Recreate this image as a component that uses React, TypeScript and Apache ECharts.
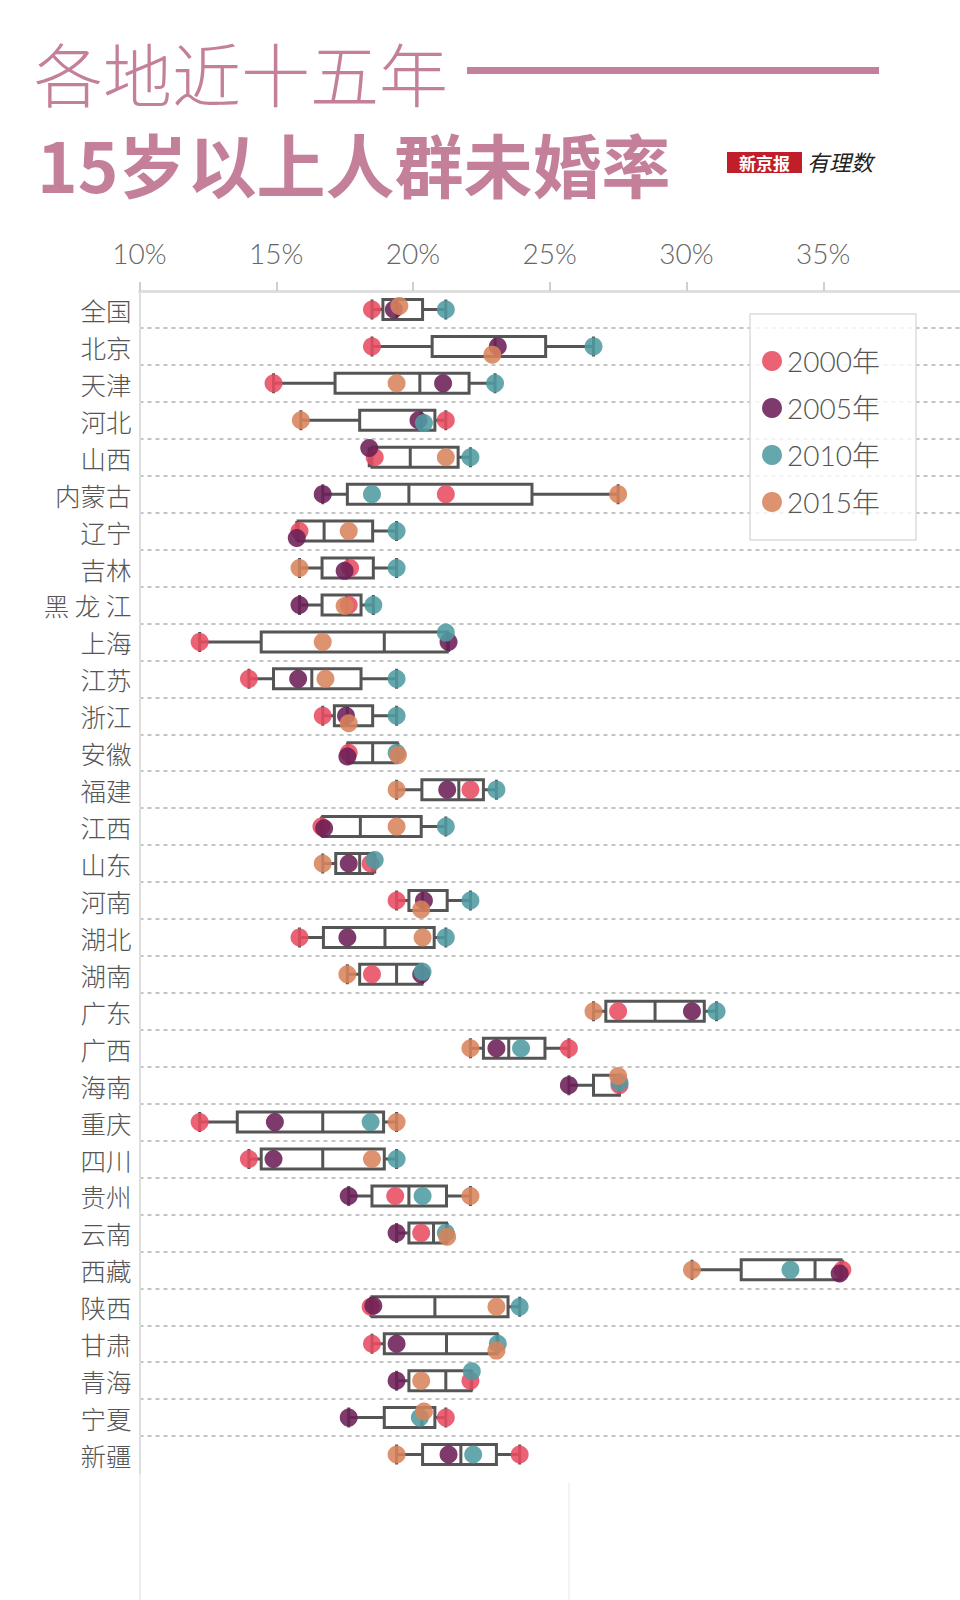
import React, { useEffect, useRef } from 'react';
import * as echarts from 'echarts';

// ---------- data ----------
const provinces = ['全国', '北京', '天津', '河北', '山西', '内蒙古', '辽宁', '吉林', '黑 龙 江', '上海', '江苏', '浙江', '安徽', '福建', '江西', '山东', '河南', '湖北', '湖南', '广东', '广西', '海南', '重庆', '四川', '贵州', '云南', '西藏', '陕西', '甘肃', '青海', '宁夏', '新疆'];
const years = ['2000年', '2005年', '2010年', '2015年'];
const rate2000 = [18.5, 18.5, 14.9, 21.2, 18.6, 21.2, 15.85, 17.7, 17.65, 12.2, 14.0, 16.7, 17.65, 22.1, 16.65, 18.45, 19.4, 15.85, 18.5, 27.5, 25.7, 27.55, 12.2, 14.0, 19.35, 20.3, 35.7, 18.45, 18.5, 22.1, 21.2, 23.9];
const rate2005 = [19.3, 23.1, 21.1, 20.2, 18.4, 16.7, 15.75, 17.5, 15.85, 21.3, 15.8, 17.55, 17.6, 21.25, 16.75, 17.65, 20.4, 17.6, 20.3, 30.2, 23.05, 25.7, 14.95, 14.9, 17.65, 19.4, 35.6, 18.55, 19.4, 19.4, 17.65, 21.3];
const rate2010 = [21.2, 26.6, 23.0, 20.4, 22.1, 18.5, 19.4, 19.4, 18.55, 21.2, 19.4, 19.4, 19.4, 23.05, 21.2, 18.6, 22.1, 21.2, 20.35, 31.1, 23.95, 27.55, 18.45, 19.4, 20.35, 21.2, 33.8, 23.9, 23.1, 22.15, 20.25, 22.2];
const rate2015 = [19.5, 22.9, 19.4, 15.9, 21.2, 27.5, 17.65, 15.85, 17.5, 16.7, 16.8, 17.65, 19.45, 19.4, 19.4, 16.7, 20.3, 20.35, 17.6, 26.6, 22.1, 27.5, 19.4, 18.5, 22.1, 21.25, 30.2, 23.05, 23.05, 20.3, 20.4, 19.4];
const seriesRates = [rate2000, rate2005, rate2010, rate2015];

const colors = ['#e84c62', '#6c1f55', '#4f9ba2', '#d8835c'];
const titleColor = '#c4809a';
const cjk = '"Noto Sans CJK SC", "Noto Sans", sans-serif';

// Tukey hinges for four observations per row
function hinges(vals: number[]) {
  const s = [...vals].sort((a, b) => a - b);
  const n = s.length;
  const half = Math.floor(n / 2);
  const med = (arr: number[]) => {
    const m = Math.floor(arr.length / 2);
    return arr.length % 2 ? arr[m] : (arr[m - 1] + arr[m]) / 2;
  };
  const lower = s.slice(0, half);
  const upper = s.slice(n - half);
  return [s[0], med(lower), med(s), med(upper), s[n - 1]];
}

export default function App() {
  const ref = useRef<HTMLDivElement>(null);

  useEffect(() => {
    if (!ref.current) return;
    const chart = echarts.init(ref.current, undefined, { renderer: 'svg' });

    const boxData = provinces.map((_, i) => hinges(seriesRates.map((r) => r[i])));

    const scatterSeries = years.map((y, k) => ({
      type: 'scatter',
      name: y,
      data: provinces.map((p, i) => [seriesRates[k][i], p]),
      symbolSize: 18,
      itemStyle: { color: colors[k], opacity: 0.88 },
      z: 3,
    }));

    chart.setOption({
      animation: false,
      backgroundColor: '#ffffff',
      textStyle: { fontFamily: cjk },
      grid: { left: 139.5, right: -12.3, top: 291, height: 1182 },
      xAxis: {
        type: 'value',
        position: 'top',
        min: 10,
        max: 40,
        interval: 5,
        axisLine: { show: true, lineStyle: { color: '#dedede', width: 3 } },
        axisTick: { show: true, length: 9, lineStyle: { color: '#cfcfcf', width: 2 } },
        splitLine: { show: false },
        axisLabel: {
          formatter: '{value}%',
          fontSize: 28,
          color: '#666',
          fontWeight: 300,
          fontFamily: 'Lato, "Open Sans", sans-serif',
          margin: 24,
          showMaxLabel: false,
        },
      },
      yAxis: {
        type: 'category',
        data: provinces,
        inverse: true,
        jitter: 28,
        jitterOverlap: false,
        jitterMargin: 2,
        axisLine: { show: true, lineStyle: { color: '#dedede', width: 2 } },
        axisTick: { show: false },
        axisLabel: { interval: 0, fontSize: 25.5, color: '#555', fontWeight: 300, fontFamily: cjk, margin: 8 },
        splitLine: {
          show: true,
          interval: 0,
          showMinLine: false,
          showMaxLine: false,
          lineStyle: { color: '#c4c4c4', width: 2, type: [4, 4] },
        },
      },
      legend: {
        data: years,
        orient: 'vertical',
        left: 750,
        top: 314,
        itemGap: 19,
        icon: 'circle',
        itemWidth: 20,
        itemHeight: 20,
        padding: [33, 36, 24, 12],
        borderColor: '#dcdcdc',
        borderWidth: 1.5,
        backgroundColor: 'rgba(255,255,255,0.8)',
        textStyle: { fontSize: 28, color: '#555', fontWeight: 300, fontFamily: 'Lato, "Noto Sans CJK SC", sans-serif' },
      },
      series: [
        {
          type: 'boxplot',
          name: 'box',
          data: boxData,
          boxWidth: [20, 20],
          itemStyle: { color: 'rgba(255,255,255,0)', borderColor: '#555', borderWidth: 3 },
          emphasis: { disabled: true },
          z: 2,
        },
        ...scatterSeries,
      ],
      graphic: [
        {
          type: 'text',
          x: 34,
          y: 72,
          style: { text: '各地近十五年', fontSize: 69, fontWeight: 300, fontFamily: cjk, fill: titleColor, align: 'left', verticalAlign: 'middle' },
        },
        { type: 'rect', shape: { x: 467, y: 67, width: 412, height: 7 }, style: { fill: titleColor } },
        {
          type: 'text',
          x: 37,
          y: 163,
          style: { text: '15岁以上人群未婚率', fontSize: 69, fontWeight: 'bold', fontFamily: cjk, fill: titleColor, align: 'left', verticalAlign: 'middle' },
        },
        { type: 'rect', shape: { x: 727, y: 152, width: 75, height: 21 }, style: { fill: '#c01f2a' } },
        {
          type: 'text',
          x: 764.5,
          y: 162.5,
          style: { text: '新京报', fontSize: 17, fontWeight: 'bold', fontFamily: cjk, fill: '#ffffff', align: 'center', verticalAlign: 'middle' },
        },
        {
          type: 'text',
          x: 840,
          y: 161,
          style: { text: '有理数', fontSize: 22, fontStyle: 'italic', fontFamily: cjk, fill: '#222', align: 'center', verticalAlign: 'middle' },
        },
        { type: 'line', shape: { x1: 140, y1: 1473, x2: 140, y2: 1600 }, style: { stroke: '#eeeeee', lineWidth: 2 } },
        { type: 'line', shape: { x1: 569, y1: 1483, x2: 569, y2: 1600 }, style: { stroke: '#efefef', lineWidth: 1.5 } },
      ],
    });

    return () => chart.dispose();
  }, []);

  return (
    <div
      ref={ref}
      style={{ position: 'absolute', left: 0, top: 0, width: 960, height: 1600, background: '#fff' }}
    />
  );
}
